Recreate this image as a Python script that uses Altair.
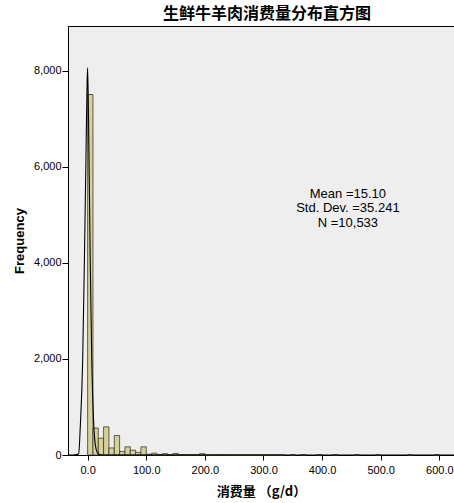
import altair as alt
import pandas as pd

# Histogram counts (bin width ~9.09 g/d, first bin starting at 0)
bin_width = 100.0 / 11
counts = [7500, 560, 350, 585, 146, 405, 75, 170, 100, 55, 170,
          15, 38, 10, 28, 10, 32, 8, 6, 5, 5, 28,
          3, 2, 3, 2, 2, 1, 2, 1, 1, 1, 1, 1, 1, 1, 1, 0, 1, 0, 1,
          0, 0, 1, 0, 0, 1, 0, 0, 0, 1, 0, 0, 0, 1, 0, 0, 0, 0, 0, 1,
          0, 0, 0, 0, 1]

# Fitted curve
curve_x = [-33.5, -25, -18.7, -15.3, -12.6, -8.5, -5.5, -2.9, -1.0, 0.0, 1.5, 4.4, 7.0, 10.2, 14.0, 18.7, 25, 40, 625]
curve_y = [0, 0, 8, 30, 570, 1960, 4080, 6120, 7700, 8056, 7000, 4080, 2000, 700, 150, 20, 0, 0, 0]

stats_lines = ["Mean =15.10", "Std. Dev. =35.241", "N =10,533"]
stats_y = [5440, 5130, 4820]
stats_x = [444, 444, 444]

title_text = "生鲜牛羊肉消费量分布直方图"
x_title = "消费量 （g/d）"
y_title = "Frequency"

bars = pd.DataFrame({
    "lo": [i * bin_width for i in range(len(counts))],
    "hi": [(i + 1) * bin_width for i in range(len(counts))],
    "count": counts,
})
bars = bars[bars["count"] > 0]
curve = pd.DataFrame({"x": curve_x, "y": curve_y})
stats = pd.DataFrame({"x": stats_x, "y": stats_y, "t": stats_lines})

xs = alt.Scale(domain=[-33.5, 625.0], nice=False, zero=False)
ys = alt.Scale(domain=[0, 8926], nice=False)

xaxis = alt.Axis(values=[0, 100, 200, 300, 400, 500, 600], format=".1f",
                 title=x_title, grid=False, tickSize=5, labelPadding=4,
                 titleFontWeight="bold", titleFont="Noto Sans CJK SC",
                 titleFontSize=13, titlePadding=10, labelFontSize=11,
                 labelFont="Liberation Sans", domainColor="black", tickColor="black",
                 labelColor="black", titleColor="black")
yaxis = alt.Axis(values=[0, 2000, 4000, 6000, 8000], format=",d", title=y_title,
                 grid=False, tickSize=6, labelPadding=1, titleFontWeight="bold",
                 titleFont="Liberation Sans", titleFontSize=13, titlePadding=7,
                 labelFontSize=11, labelFont="Liberation Sans",
                 domainColor="black", tickColor="black", labelColor="black",
                 titleColor="black")

bar_layer = alt.Chart(bars).mark_rect(fill="#d6d09b", stroke="#3a3a2a", strokeWidth=0.8).encode(
    x=alt.X("lo:Q", scale=xs, axis=xaxis),
    x2="hi:Q",
    y=alt.Y("count:Q", scale=ys, axis=yaxis),
    y2=alt.datum(0),
)

line_layer = alt.Chart(curve).mark_line(color="black", strokeWidth=1.1, interpolate="monotone", clip=True).encode(
    x=alt.X("x:Q", scale=xs),
    y=alt.Y("y:Q", scale=ys),
)

text_layer = alt.Chart(stats).mark_text(font="Liberation Sans", fontSize=13, color="black", align="center", baseline="middle").encode(
    x=alt.X("x:Q", scale=xs),
    y=alt.Y("y:Q", scale=ys),
    text="t:N",
)

chart = alt.layer(bar_layer, line_layer, text_layer).properties(
    width=454, height=503,
    autosize=alt.AutoSizeParams(type="fit", contains="padding"),
    title=alt.TitleParams(title_text, font="Noto Sans CJK SC", fontSize=16,
                          fontWeight="bold", color="black", anchor="middle",
                          offset=4, dx=6),
    padding={"left": 13, "top": 6, "right": 0, "bottom": 5},
    background="white",
).configure_view(fill="#eeeeee", stroke="black", strokeWidth=1)

chart.save("out.html", embed_options={"renderer": "svg", "actions": False})
